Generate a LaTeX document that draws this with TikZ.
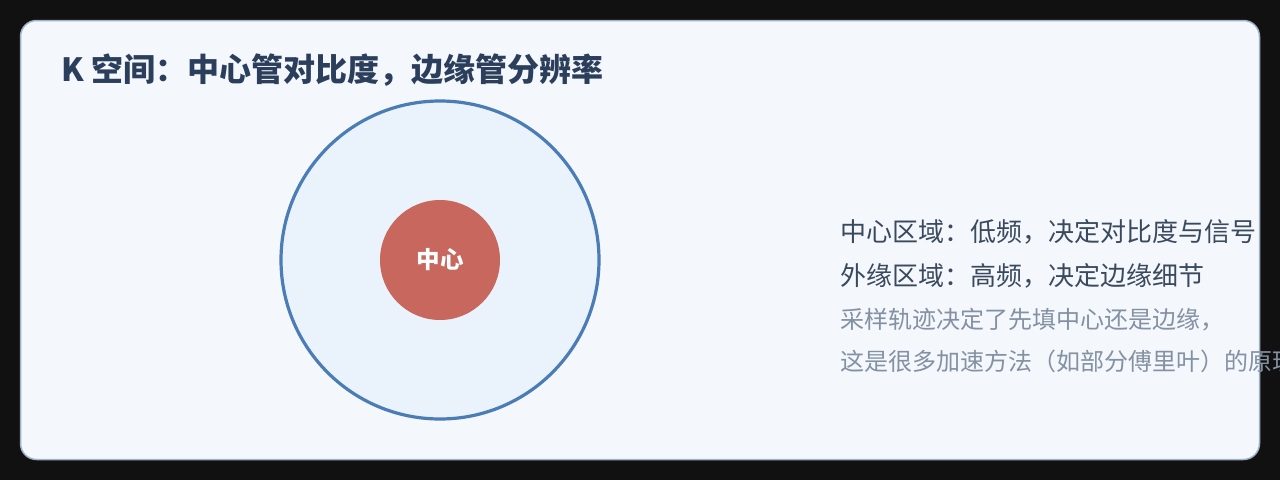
\documentclass[tikz,border=0pt]{standalone}
\usepackage{fontspec}
\setmainfont{Noto Sans CJK SC}
\definecolor{pagebg}{HTML}{111111}
\definecolor{cardbg}{HTML}{F4F7FB}
\definecolor{cardline}{HTML}{9DB1C6}
\definecolor{titlecol}{HTML}{2B3F5C}
\definecolor{outerfill}{HTML}{EAF2FB}
\definecolor{outerline}{HTML}{4A7DB5}
\definecolor{innerfill}{HTML}{C8675D}
\definecolor{darktext}{HTML}{3A4A5E}
\definecolor{graytext}{HTML}{8391A3}
\tikzset{
  card/.style={fill=cardbg, draw=cardline, line width=1.5pt, rounded corners=16pt},
  outer/.style={circle, fill=outerfill, draw=outerline, line width=3.2pt, minimum size=318pt, inner sep=0pt},
  inner/.style={circle, fill=innerfill, minimum size=120pt, inner sep=0pt, text=white, font=\fontsize{23.5}{27}\selectfont\bfseries},
  titletext/.style={anchor=west, inner sep=0pt, text=titlecol, font=\fontsize{32}{37}\selectfont\bfseries},
  mainline/.style={anchor=west, inner sep=0pt, text=darktext, font=\fontsize{26}{30}\selectfont},
  noteline/.style={anchor=west, inner sep=0pt, text=graytext, font=\fontsize{24}{28}\selectfont}
}
\begin{document}
\begin{tikzpicture}[x=1pt,y=-1pt]
\useasboundingbox (0,0) rectangle (1280,480);
\fill[pagebg] (0,0) rectangle (1280,480);
\clip (0,0) rectangle (1280,480);
\draw[card] (20.5,20.5) rectangle (1259.5,459.5);
\node[titletext] (title) at (61,70) {K 空间：中心管对比度，边缘管分辨率};
\node[outer] (outerc) at (440,260) {};
\node[inner] (innerc) at (440,260) {中心};
\node[mainline] (l1) at (840,232) {中心区域：低频，决定对比度与信号};
\node[mainline] (l2) at (840,276) {外缘区域：高频，决定边缘细节};
\node[noteline] (l3) at (840,320) {采样轨迹决定了先填中心还是边缘，};
\node[noteline] (l4) at (840,361) {这是很多加速方法（如部分傅里叶）的原理};
\end{tikzpicture}
\end{document}
